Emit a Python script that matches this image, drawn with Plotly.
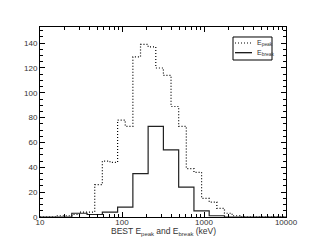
import plotly.graph_objects as go

# Bin edges (keV) and counts
epeak_edges = [10, 15.9, 19.7, 24.4, 30.3, 37.5, 46.5, 57.6, 71.3, 88.4, 109.5, 135.7,
               168.2, 208.3, 258.2, 319.8, 396.3, 491.0, 608.4, 753.9, 934.1, 1157,
               1434, 1777, 2202, 2728, 10000]
epeak_counts = [0, 1, 1, 2, 4, 4, 26, 45, 44, 78, 73, 129, 139, 137, 120, 114, 89, 73,
                39, 36, 15, 12, 7, 3, 1, 0]

ebreak_edges = [10, 24.4, 37.5, 57.6, 88.4, 135.7, 208.3, 319.8, 491.0, 753.9, 1157,
                1777, 10000]
ebreak_counts = [0, 3, 2, 4, 8, 35, 73, 54, 24, 5, 1, 0]

x_major = [10, 100, 1000, 10000]
x_minor = [m * d for d in (10, 100, 1000) for m in range(2, 10)]

legend_labels = ["E<sub>peak</sub>", "E<sub>break</sub>"]

FONT = "Liberation Sans, Arial, sans-serif"
DOT = "1px,2px"

fig = go.Figure()
fig.add_trace(go.Scatter(
    x=epeak_edges, y=epeak_counts + [epeak_counts[-1]], mode="lines",
    line=dict(shape="hv", color="black", width=1.2, dash=DOT),
    name=legend_labels[0], showlegend=False))
fig.add_trace(go.Scatter(
    x=ebreak_edges, y=ebreak_counts + [ebreak_counts[-1]], mode="lines",
    line=dict(shape="hv", color="#222222", width=1.2),
    name=legend_labels[1], showlegend=False))

fig.update_layout(
    width=311, height=249,
    margin=dict(l=40, r=25, t=27, b=32),
    paper_bgcolor="white", plot_bgcolor="white",
    font=dict(family=FONT, size=8, color="#333333"),
    showlegend=False,
)
fig.update_xaxes(
    type="log", range=[1, 4],
    tickvals=x_major, ticktext=[str(v) for v in x_major],
    ticks="inside", ticklen=5, tickcolor="black", tickwidth=1,
    minor=dict(tickvals=x_minor, ticks="inside", ticklen=3, tickcolor="black", tickwidth=1),
    showline=True, linecolor="black", linewidth=1, mirror="ticks",
    showgrid=False, zeroline=False,
    tickfont=dict(size=8), ticklabelstandoff=-3,
)
fig.update_yaxes(
    range=[0, 153], dtick=20, tick0=0,
    ticks="inside", ticklen=5, tickcolor="black", tickwidth=1,
    minor=dict(dtick=5, ticks="inside", ticklen=3, tickcolor="black", tickwidth=1),
    showline=True, linecolor="black", linewidth=1, mirror="ticks",
    showgrid=False, zeroline=False,
    tickfont=dict(size=8),
)
fig.add_annotation(
    text="BEST E<sub>peak</sub> and E<sub>break</sub> (keV)",
    xref="paper", yref="paper", x=0.5, y=-0.075, xanchor="center", yanchor="middle",
    showarrow=False, font=dict(size=8.5, family=FONT, color="#333333"))

# Legend box (drawn manually to match the compact reference legend)
fig.add_shape(type="rect", xref="paper", yref="paper", x0=0.7846, x1=0.9431,
              y0=0.8263, y1=0.9474, line=dict(color="black", width=1),
              fillcolor="white", layer="above")
for i, (ypos, dash) in enumerate([(0.9158, DOT), (0.8647, "solid")]):
    fig.add_shape(type="line", xref="paper", yref="paper", x0=0.7927, x1=0.8618,
                  y0=ypos, y1=ypos, line=dict(color="black", width=1.2, dash=dash),
                  layer="above")
    fig.add_annotation(text=legend_labels[i], xref="paper", yref="paper",
                       x=0.872, y=ypos, xanchor="left", yanchor="middle",
                       showarrow=False, font=dict(size=7, family=FONT, color="#333333"))

fig.write_html("out.html", post_script="document.body.style.margin='0';",
               config={"displayModeBar": False})
